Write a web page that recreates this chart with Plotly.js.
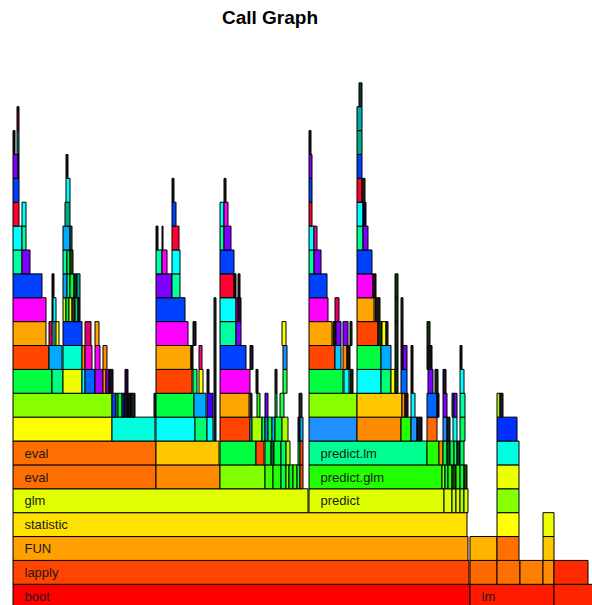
<!DOCTYPE html>
<html>
<head>
<meta charset="utf-8">
<script src="https://cdn.plot.ly/plotly-3.0.1.min.js"></script>
<style>html,body{margin:0;padding:0;background:#fff;}#chart{width:592px;height:605px;}</style>
</head>
<body>
<div id="chart"></div>
<script>
// Flame graph frames per stack depth: [start sample, end sample, colour, label]
const level0 = [[0,457,'#FF0000','boot'],[457,541,'#FF1A00','lm'],[541,590,'#FF2400','']];
const level1 = [[0,456,'#FF4500','lapply'],[457,484,'#FF6A00'],[484,507,'#FF7000'],[507,530,'#FF8000'],[530,541,'#FF8C00'],[541,575,'#FF2A00']];
const level2 = [[0,455,'#FFA000','FUN'],[457,484,'#FFB400'],[484,506,'#FF7000'],[530,541,'#FFC800']];
const level3 = [[0,454,'#FFE100','statistic'],[484,506,'#FFFF00'],[530,541,'#F0FF00']];
const level4 = [[0,295,'#E0FF00','glm'],[296,431,'#DDFF00','predict'],[431,439,'#DDFF00'],[439,443,'#C8FF00'],[443,447,'#DDFF00'],[447,451,'#AAFF00'],[451,455,'#DDFF00'],[484,506,'#88FF00']];
const level5 = [[0,143,'#FF6E00','eval'],[143,207,'#FF8C00'],[207,252,'#80FF00'],[252,260,'#40FF00'],[260,268,'#22FF00'],[268,273,'#00FF40'],[273,276,'#80FF00'],[276,280,'#00FF20'],[280,284,'#40FF00'],[284,287,'#00FF40'],[287,290,'#FF4500'],[296,429,'#22FF00','predict.glm'],[429,432,'#80FF00'],[432,435,'#00FF40'],[435,439,'#22FF00'],[439,443,'#114400'],[443,447,'#22FF00'],[447,451,'#00FF40'],[451,454,'#224400'],[484,506,'#EEFF00']];
const level6 = [[0,143,'#FF6E00','eval'],[143,206,'#FFC800'],[207,243,'#00FF40'],[243,251,'#FF4500'],[252,258,'#00FF40'],[258,261,'#006622'],[261,268,'#00FF40'],[268,273,'#00FF60'],[273,277,'#A0FF00'],[285,287,'#00FF40'],[287,290,'#FF4500'],[296,414,'#00FF90','predict.lm'],[414,426,'#22FF00'],[426,430,'#FF8C00'],[430,434,'#00FF40'],[434,437,'#114422'],[437,441,'#00FF40'],[441,444,'#00FF80'],[444,447,'#113322'],[447,451,'#00FF60'],[484,506,'#00FFE0']];
const level7 = [[0,99,'#FFFF00'],[99,142,'#00FFE0'],[143,182,'#00FFFF'],[182,194,'#00FF70'],[194,200,'#00FFFF'],[201,203,'#113333'],[207,237,'#FF4500'],[237,239,'#00FFFF'],[239,249,'#AAFF00'],[249,252,'#00FF40'],[252,255,'#0088FF'],[255,259,'#00FF40'],[259,262,'#00AAFF'],[262,269,'#00FF40'],[269,275,'#AAFF00'],[285,287,'#112233'],[287,290,'#00AAFF'],[296,344,'#1E90FF'],[344,388,'#FF8C00'],[388,398,'#22FF00'],[398,404,'#1E90FF'],[404,409,'#111122'],[414,424,'#FF6600'],[430,434,'#1E90FF'],[434,437,'#112222'],[440,444,'#00FFFF'],[447,452,'#00FF60'],[484,504,'#0030FF']];
const level8 = [[0,99,'#88FF00'],[99,103,'#0044FF'],[103,105,'#22FF00'],[105,109,'#00FF40'],[109,111,'#0044FF'],[111,115,'#111122'],[115,118,'#111111'],[118,122,'#112211'],[141,143,'#222222'],[143,181,'#00FF40'],[181,193,'#00AAFF'],[194,200,'#4000FF'],[201,203,'#113333'],[207,236,'#FFA500'],[237,239,'#222244'],[244,247,'#22FF00'],[252,255,'#6600FF'],[262,264,'#00CC44'],[267,271,'#22FF44'],[286,289,'#222222'],[296,344,'#88FF00'],[344,389,'#FFC800'],[389,392,'#FF8C00'],[392,395,'#221122'],[398,402,'#00FFFF'],[414,424,'#0066FF'],[424,426,'#221122'],[430,434,'#8000FF'],[439,441,'#006666'],[441,444,'#8000FF'],[447,452,'#00FFA0'],[484,487,'#AAFF00'],[487,490,'#221133']];
const level9 = [[0,39,'#00FF40'],[39,50,'#00FF80'],[50,69,'#EEFF00'],[69,72,'#00FFFF'],[72,82,'#0066FF'],[82,90,'#AA00FF'],[90,93,'#FF8C00'],[93,96,'#8800CC'],[96,100,'#111111'],[112,115,'#220033'],[143,179,'#FF4500'],[180,184,'#00FF60'],[186,190,'#FFFF00'],[194,196,'#220044'],[201,203,'#113333'],[207,237,'#FF00FF'],[243,245,'#221122'],[262,264,'#222211'],[270,274,'#22FF44'],[296,330,'#00FF40'],[331,336,'#00FFFF'],[337,340,'#112211'],[344,368,'#00FFFF'],[368,378,'#00FF70'],[378,382,'#FFFF00'],[382,385,'#113311'],[388,394,'#0066FF'],[398,400,'#221122'],[415,420,'#8000FF'],[422,425,'#112222'],[430,433,'#221122'],[447,451,'#00FFFF']];
const level10 = [[0,36,'#FF4500'],[36,49,'#00AAFF'],[50,69,'#00FFD0'],[69,72,'#FF8C00'],[72,79,'#FF00CC'],[82,87,'#FF00FF'],[90,94,'#FF8C00'],[143,178,'#FFA500'],[178,180,'#221100'],[186,189,'#FF0088'],[201,203,'#113333'],[207,233,'#0040FF'],[237,240,'#221133'],[270,274,'#1E90FF'],[296,322,'#FF4500'],[322,328,'#00CCFF'],[330,334,'#FF8C00'],[334,337,'#221100'],[344,368,'#00FF40'],[368,378,'#00AAFF'],[382,385,'#113311'],[388,390,'#221111'],[390,394,'#8000FF'],[398,400,'#221122'],[414,419,'#111111'],[447,449,'#221122']];
const level11 = [[0,33,'#FFA500'],[36,39,'#E0006A'],[40,42,'#00FFFF'],[43,46,'#FFFF00'],[50,69,'#0040FF'],[72,78,'#E0006A'],[82,86,'#FFA500'],[143,175,'#FF00FF'],[180,183,'#221122'],[201,203,'#113333'],[207,223,'#00FFA0'],[223,228,'#8000FF'],[269,273,'#FFFF00'],[296,319,'#FFA500'],[320,323,'#221111'],[323,328,'#8000FF'],[330,335,'#8000FF'],[337,339,'#113311'],[344,365,'#FF4500'],[365,369,'#113311'],[369,373,'#FFFF00'],[373,375,'#222222'],[382,385,'#113311'],[388,390,'#221111'],[414,417,'#113311']];
const level12 = [[0,33,'#FF00FF'],[39,40,'#221111'],[40,43,'#00FFFF'],[50,53,'#CCFF00'],[53,56,'#00FF60'],[56,59,'#FFFF00'],[59,62,'#333322'],[62,65,'#00CC80'],[65,67,'#222222'],[143,172,'#0040FF'],[201,203,'#113333'],[207,223,'#00FFFF'],[223,225,'#FF00AA'],[225,228,'#330044'],[296,315,'#FF00FF'],[322,326,'#E0006A'],[344,361,'#FFA500'],[362,367,'#221111'],[382,385,'#113311'],[388,390,'#113311']];
const level13 = [[0,29,'#0040FF'],[39,41,'#220022'],[50,54,'#00AAFF'],[54,57,'#00FF80'],[57,61,'#00FF40'],[61,64,'#222222'],[64,67,'#00AA88'],[143,159,'#8000FF'],[159,167,'#00FFA0'],[207,221,'#FF0030'],[221,223,'#221111'],[225,227,'#221122'],[296,314,'#0040FF'],[344,360,'#FF00FF'],[360,363,'#221111'],[382,385,'#113311']];
const level14 = [[0,9,'#00FFA0'],[9,17,'#8000FF'],[50,54,'#00FFA0'],[54,57,'#00FF40'],[57,60,'#114411'],[143,149,'#00FFA0'],[149,154,'#FF00FF'],[159,167,'#00FFFF'],[207,221,'#0040FF'],[296,301,'#00FFA0'],[301,308,'#8000FF'],[344,359,'#0040FF']];
const level15 = [[0,9,'#00FFFF'],[9,13,'#00FFA0'],[50,57,'#00AAFF'],[57,59,'#116655'],[143,145,'#112211'],[149,150,'#112211'],[159,166,'#FF0030'],[207,211,'#00FFA0'],[211,218,'#8000FF'],[296,301,'#00FFFF'],[301,304,'#FF00AA'],[344,350,'#00FF90'],[350,355,'#8000FF']];
const level16 = [[0,6,'#FF0030'],[9,13,'#00FFFF'],[52,57,'#00AA88'],[159,163,'#0040FF'],[207,211,'#00FFFF'],[211,215,'#FF00FF'],[296,299,'#FF0030'],[344,350,'#00FFFF'],[350,353,'#110033']];
const level17 = [[0,6,'#0040FF'],[53,57,'#00FFFF'],[159,161,'#112211'],[211,213,'#112211'],[296,299,'#0040FF'],[344,349,'#FF0030'],[349,352,'#222211']];
const level18 = [[0,5,'#8000FF'],[5,6,'#113333'],[53,55,'#221122'],[296,299,'#8000FF'],[344,349,'#0040FF']];
const level19 = [[0,2,'#220011'],[4,6,'#008080'],[296,298,'#221122'],[344,349,'#00AA88']];
const level20 = [[4,6,'#660022'],[344,349,'#00AAAA']];
const level21 = [[346,349,'#113333']];

const levels = [level0,level1,level2,level3,level4,level5,level6,level7,level8,level9,level10,
  level11,level12,level13,level14,level15,level16,level17,level18,level19,level20,level21];

const barY = [], barBase = [], barLen = [], barColor = [];
const labX = [], labY = [], labText = [];
levels.forEach((frames, depth) => {
  frames.forEach(f => {
    barY.push(depth + 0.5);
    barBase.push(f[0]);
    barLen.push(f[1] - f[0]);
    barColor.push(f[2]);
    if (f[3]) { labX.push(f[0] + 11.5); labY.push(depth + 0.44); labText.push(f[3]); }
  });
});

const traces = [
  {
    type: 'bar', orientation: 'h',
    y: barY, x: barLen, base: barBase, width: 1,
    marker: {color: barColor, line: {color: '#000000', width: 1}},
    hoverinfo: 'skip', showlegend: false
  },
  {
    type: 'scatter', mode: 'text',
    x: labX, y: labY, text: labText,
    textposition: 'middle right',
    textfont: {family: 'Liberation Sans, Arial, sans-serif', size: 13, color: '#1a1a1a'},
    hoverinfo: 'skip', showlegend: false, cliponaxis: false
  }
];

const layout = {
  width: 592, height: 605,
  margin: {l: 0, r: 0, t: 60, b: 0, pad: 0},
  paper_bgcolor: '#ffffff', plot_bgcolor: '#ffffff',
  title: {
    text: 'Call Graph',
    font: {family: 'Liberation Sans, Arial, sans-serif', size: 19, color: '#000000', weight: 'bold'},
    x: 270/592, xref: 'container', xanchor: 'center',
    y: 1 - 17/605, yref: 'container', yanchor: 'middle'
  },
  xaxis: {range: [-13, 579], visible: false, fixedrange: true},
  yaxis: {range: [0.133, 22.956], visible: false, fixedrange: true},
  barmode: 'overlay',
  showlegend: false
};

Plotly.newPlot('chart', traces, layout, {displayModeBar: false, staticPlot: true});
</script>
</body>
</html>
